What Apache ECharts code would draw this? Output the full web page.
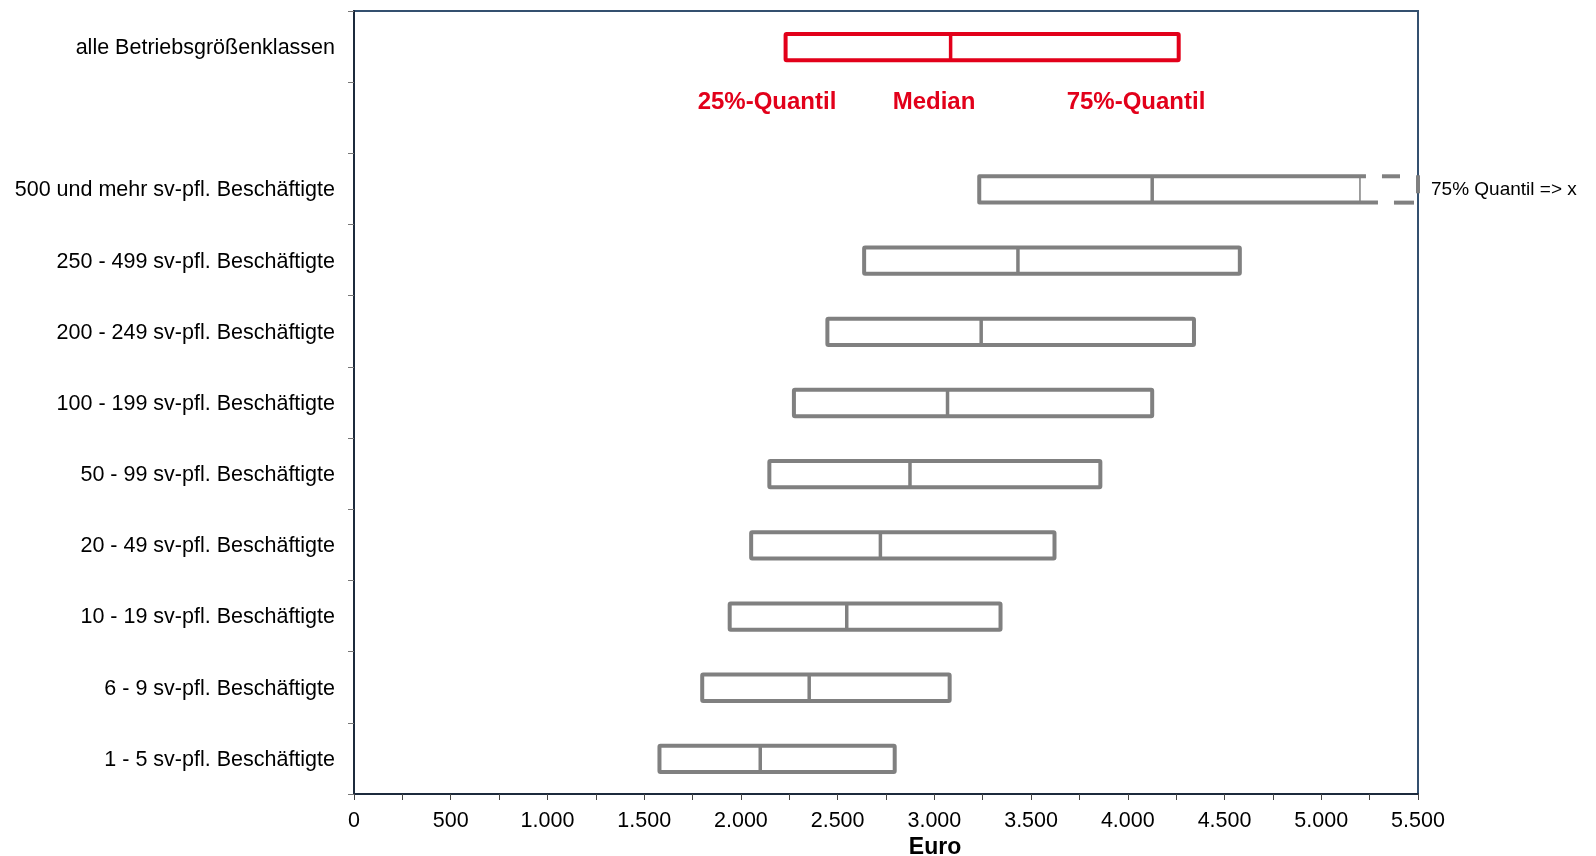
<!DOCTYPE html>
<html>
<head>
<meta charset="utf-8">
<script src="https://cdn.jsdelivr.net/npm/echarts@6/dist/echarts.min.js"></script>
<style>
html,body{margin:0;padding:0;background:#fff;}
#chart{width:1596px;height:856px;}
</style>
</head>
<body>
<div id="chart"></div>
<script>
// ---- data ----
const categories = [
  'alle Betriebsgrößenklassen',
  '',
  '500 und mehr sv-pfl. Beschäftigte',
  '250 - 499 sv-pfl. Beschäftigte',
  '200 - 249 sv-pfl. Beschäftigte',
  '100 - 199 sv-pfl. Beschäftigte',
  '50 - 99 sv-pfl. Beschäftigte',
  '20 - 49 sv-pfl. Beschäftigte',
  '10 - 19 sv-pfl. Beschäftigte',
  '6 - 9 sv-pfl. Beschäftigte',
  '1 - 5 sv-pfl. Beschäftigte'
];
const q25    = [2231, null, 3232, 2637, 2447, 2274, 2147, 2053, 1942, 1800, 1579];
const median = [3084, null, 4126, 3432, 3242, 3068, 2874, 2721, 2547, 2353, 2100];
const q75    = [4263, null, null, 4579, 4342, 4126, 3858, 3621, 3342, 3079, 2795];
// rows whose 75% quantile lies beyond the axis: solid box drawn up to this value, dashed beyond
const cutAt  = [null, null, 5200, null, null, null, null, null, null, null, null];
const xTicks = [0, 500, 1000, 1500, 2000, 2500, 3000, 3500, 4000, 4500, 5000, 5500];
const legendLabels = ['25%-Quantil', 'Median', '75%-Quantil'];
const openEndNote = '75% Quantil => x';
const xName = 'Euro';

// ---- chart ----
const FONT = '"Liberation Sans", Arial, sans-serif';
const RED = '#e2001a';
const GREY = '#808080';
const X_MIN = xTicks[0], X_MAX = xTicks[xTicks.length - 1];

const boxData = categories.map((c, i) => [i, q25[i], median[i], q75[i], cutAt[i]])
  .filter(d => d[1] != null);

function fmt(v) {
  return String(v).replace(/\B(?=(\d{3})+(?!\d))/g, '.');
}

function renderBox(params, api) {
  const i = api.value(0);
  const a = api.value(1), m = api.value(2), b = api.value(3), cut = api.value(4);
  const band = api.size([0, 1])[1];
  const h = band * 0.37;
  const color = i === 0 ? RED : GREY;
  const lw = 4;
  const pA = api.coord([a, i]);
  const pM = api.coord([m, i]);
  const yc = pA[1] + 0.5, y0 = yc - h / 2, y1 = yc + h / 2;
  const children = [];
  const base = { stroke: color, lineWidth: lw, fill: null, lineJoin: 'round', lineCap: 'butt' };
  if (!isNaN(b)) {
    const pB = api.coord([b, i]);
    children.push({ type: 'rect', shape: { x: pA[0], y: y0, width: pB[0] - pA[0], height: h, r: 1 }, style: Object.assign({}, base) });
  } else {
    const pC = api.coord([cut, i]);
    const pE = api.coord([X_MAX, i]);
    children.push({ type: 'polyline', shape: { points: [[pC[0] + 6, y0], [pA[0], y0], [pA[0], y1], [pC[0] + 18, y1]] }, style: Object.assign({}, base) });
    children.push({ type: 'line', shape: { x1: pC[0], y1: y0, x2: pC[0], y2: y1 }, style: { stroke: color, lineWidth: 1.5 } });
    children.push({ type: 'line', shape: { x1: pC[0] + 22, y1: y0, x2: pE[0] - 18, y2: y0 }, style: { stroke: color, lineWidth: lw } });
    children.push({ type: 'line', shape: { x1: pC[0] + 34, y1: y1, x2: pE[0] - 4, y2: y1 }, style: { stroke: color, lineWidth: lw } });
    children.push({ type: 'line', shape: { x1: pE[0], y1: y0 - 1, x2: pE[0], y2: y0 + 17 }, style: { stroke: color, lineWidth: lw } });
  }
  children.push({ type: 'line', shape: { x1: pM[0], y1: y0, x2: pM[0], y2: y1 }, style: { stroke: color, lineWidth: 3.5 } });
  return { type: 'group', children: children };
}

const chart = echarts.init(document.getElementById('chart'));
chart.setOption({
  animation: false,
  backgroundColor: '#ffffff',
  grid: { left: 354, right: 178, top: 11, bottom: 62, show: true, borderColor: '#34506f', borderWidth: 2, backgroundColor: 'transparent' },
  xAxis: {
    type: 'value', min: X_MIN, max: X_MAX, interval: 500,
    splitLine: { show: false },
    axisLine: { show: true, onZero: false, lineStyle: { color: '#1c2a3c', width: 2 } },
    axisTick: { show: true, length: 6, lineStyle: { color: '#444', width: 1 } },
    minorTick: { show: true, splitNumber: 2, length: 6, lineStyle: { color: '#444', width: 1 } },
    axisLabel: { color: '#000', fontFamily: FONT, fontSize: 21.5, margin: 16, formatter: v => fmt(v) }
  },
  yAxis: {
    type: 'category', data: categories, inverse: true,
    axisLine: { show: true, lineStyle: { color: '#1c2a3c', width: 2 } },
    axisTick: { show: true, length: 6, interval: 0, lineStyle: { color: '#777', width: 1 } },
    axisLabel: {
      color: '#000', fontFamily: FONT, fontSize: 21.5, margin: 19, interval: 0,
      formatter: v => v ? '{c|' + v + '}' : '',
      rich: { c: { color: '#000', fontFamily: FONT, fontSize: 21.5, padding: [3, 0, 0, 0] } }
    },
    splitLine: { show: false }
  },
  series: [{
    type: 'custom',
    renderItem: renderBox,
    encode: { x: [1, 2, 3, 4], y: 0 },
    data: boxData,
    clip: false,
    z: 5
  }],
  graphic: [
    { type: 'text', x: 767, y: 102.5, style: { text: legendLabels[0], fill: RED, font: 'bold 24px ' + FONT, textAlign: 'center', textVerticalAlign: 'middle', align: 'center', verticalAlign: 'middle' } },
    { type: 'text', x: 934, y: 102.5, style: { text: legendLabels[1], fill: RED, font: 'bold 24px ' + FONT, textAlign: 'center', textVerticalAlign: 'middle', align: 'center', verticalAlign: 'middle' } },
    { type: 'text', x: 1136, y: 102.5, style: { text: legendLabels[2], fill: RED, font: 'bold 24px ' + FONT, textAlign: 'center', textVerticalAlign: 'middle', align: 'center', verticalAlign: 'middle' } },
    { type: 'text', x: 1431, y: 190, style: { text: openEndNote, fill: '#000', font: '19px ' + FONT, textAlign: 'left', textVerticalAlign: 'middle', align: 'left', verticalAlign: 'middle' } },
    { type: 'text', x: 935, y: 848, style: { text: xName, fill: '#000', font: 'bold 23px ' + FONT, textAlign: 'center', textVerticalAlign: 'middle', align: 'center', verticalAlign: 'middle' } }
  ]
});
</script>
</body>
</html>
